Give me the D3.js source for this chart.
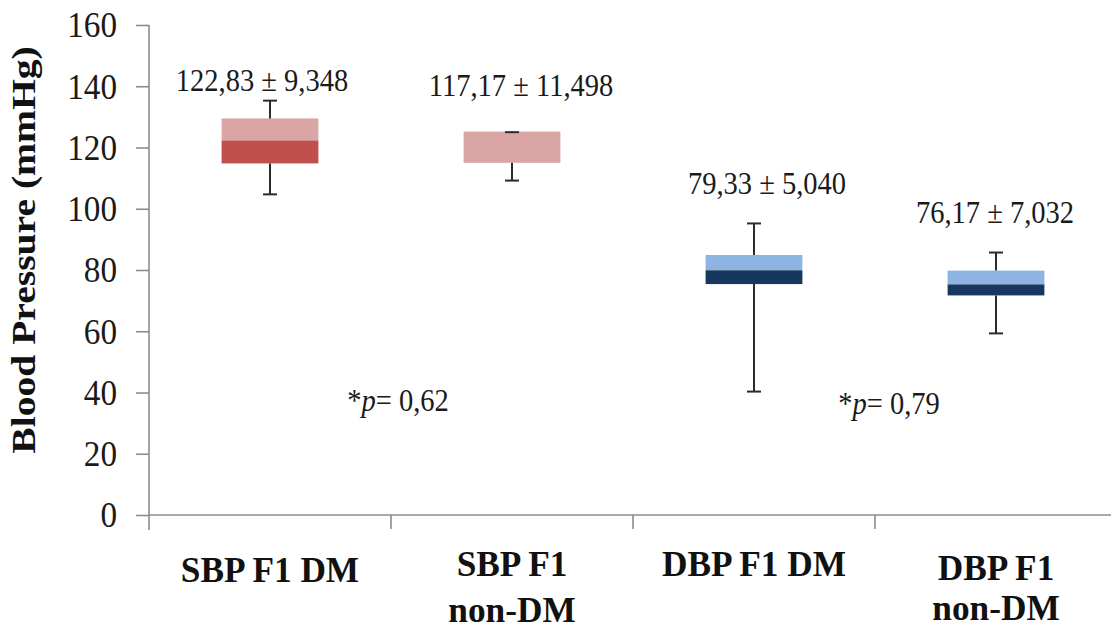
<!DOCTYPE html>
<html>
<head>
<meta charset="utf-8">
<script src="https://cdn.jsdelivr.net/npm/d3@7"></script>
<style>
  body { margin: 0; background: #fff; }
  svg { display: block; font-family: "Liberation Serif", "Times New Roman", serif; }
</style>
</head>
<body>
<svg id="chart" width="1111" height="630"></svg>
<script>
// data
var categories = ["SBP F1 DM", "SBP F1 non-DM", "DBP F1 DM", "DBP F1 non-DM"];
var labelLines = [["SBP F1 DM"], ["SBP F1", "non-DM"], ["DBP F1 DM"], ["DBP F1", "non-DM"]];
var minVals = [104.7, 109.2, 40.3, 59.3];
var q1Vals  = [114.8, 115.0, 75.4, 71.7];
var medVals = [122.3, 115.0, 79.9, 75.3];
var q3Vals  = [129.5, 125.2, 84.9, 79.8];
var maxVals = [135.3, 125.0, 95.2, 85.7];
var meanSd  = ["122,83 \u00b1 9,348", "117,17 \u00b1 11,498", "79,33 \u00b1 5,040", "76,17 \u00b1 7,032"];
var meanSdLevel = [138.4, 136.8, 104.8, 95.3];   // where each note sits (mmHg)
var pValues = ["0,62", "0,79"];
var pLevel  = [34, 33];
var yTicks  = [0, 20, 40, 60, 80, 100, 120, 140, 160];

// layout
var plotLeft = 149, plotRight = 1117, plotTop = 25, plotBottom = 515;
var sx = 0.92;   // the picture is a bit squeezed sideways
var darkCol  = ["#C0504D", "#C0504D", "#17375E", "#17375E"];
var lightCol = ["#D9A6A5", "#D9A6A5", "#8DB4E2", "#8DB4E2"];
var noteShift = [-8, 9, 13, -1];
var lineBase = [582, 576, 576, 580];
var lineGap = [46, 46, 46, 40];

var svg = d3.select("#chart");

var x = d3.scaleBand().domain(categories).range([plotLeft, plotRight]).paddingInner(0).paddingOuter(0);
var y = d3.scaleLinear().domain([0, 160]).range([plotBottom, plotTop]);
var boxW = x.bandwidth() * 0.4;

function squeezed(sel, px, py, k) {
  return sel.attr("transform", "translate(" + px + "," + py + ") scale(" + (k || sx) + ",1)");
}

// y axis
var yAxis = svg.append("g")
  .attr("transform", "translate(" + plotLeft + ",0)")
  .call(d3.axisLeft(y).tickValues(yTicks).tickSize(13).tickPadding(0).tickFormat(""));
yAxis.select(".domain").attr("d", "M0," + plotTop + "V" + (plotBottom + 15));
yAxis.selectAll("line, path").attr("stroke", "#8c8c8c").attr("stroke-width", 1.6);

yTicks.forEach(function(t) {
  squeezed(svg.append("text"), 117, y(t), 0.95)
    .attr("text-anchor", "end")
    .attr("dy", "0.35em")
    .attr("font-size", 35)
    .attr("fill", "#1a1a1a")
    .text(t);
});

// x axis line with ticks at category borders
svg.append("line")
  .attr("x1", plotLeft).attr("x2", 1111)
  .attr("y1", plotBottom).attr("y2", plotBottom)
  .attr("stroke", "#8c8c8c").attr("stroke-width", 1.6);
svg.selectAll(".xtick")
  .data(categories.slice(1))
  .enter().append("line")
  .attr("x1", function(d) { return x(d); })
  .attr("x2", function(d) { return x(d); })
  .attr("y1", plotBottom).attr("y2", plotBottom + 14)
  .attr("stroke", "#8c8c8c").attr("stroke-width", 1.6);

// category labels
categories.forEach(function(c, i) {
  labelLines[i].forEach(function(line, j) {
    squeezed(svg.append("text"), x(c) + x.bandwidth() / 2, lineBase[i] + j * lineGap[i], 0.98)
      .attr("text-anchor", "middle")
      .attr("font-weight", "bold")
      .attr("font-size", 36)
      .attr("fill", "#111")
      .text(line);
  });
});

// y title
svg.append("text")
  .attr("transform", "translate(35,250) rotate(-90) scale(1.2,1)")
  .attr("text-anchor", "middle")
  .attr("font-weight", "bold")
  .attr("font-size", 33)
  .attr("fill", "#111")
  .text("Blood Pressure (mmHg)");

// boxes
var boxes = svg.selectAll(".box")
  .data(categories)
  .enter().append("g")
  .attr("transform", function(d) { return "translate(" + (x(d) + x.bandwidth() / 2) + ",0)"; });

boxes.append("rect")
  .attr("x", -boxW / 2).attr("width", boxW)
  .attr("y", function(d, i) { return y(q3Vals[i]); })
  .attr("height", function(d, i) { return y(medVals[i]) - y(q3Vals[i]); })
  .attr("fill", function(d, i) { return lightCol[i]; });

boxes.append("rect")
  .attr("x", -boxW / 2).attr("width", boxW)
  .attr("y", function(d, i) { return y(medVals[i]); })
  .attr("height", function(d, i) { return y(q1Vals[i]) - y(medVals[i]); })
  .attr("fill", function(d, i) { return darkCol[i]; });

// whiskers
var wc = "#2b2b2b";
boxes.append("line")
  .attr("y1", function(d, i) { return y(maxVals[i]); })
  .attr("y2", function(d, i) { return y(q3Vals[i]); })
  .attr("stroke", wc).attr("stroke-width", 2);
boxes.append("line")
  .attr("y1", function(d, i) { return y(q1Vals[i]); })
  .attr("y2", function(d, i) { return y(minVals[i]); })
  .attr("stroke", wc).attr("stroke-width", 2);
boxes.append("line")
  .attr("x1", -7).attr("x2", 7)
  .attr("y1", function(d, i) { return y(maxVals[i]); })
  .attr("y2", function(d, i) { return y(maxVals[i]); })
  .attr("stroke", wc).attr("stroke-width", 2);
boxes.append("line")
  .attr("x1", -7).attr("x2", 7)
  .attr("y1", function(d, i) { return y(minVals[i]); })
  .attr("y2", function(d, i) { return y(minVals[i]); })
  .attr("stroke", wc).attr("stroke-width", 2);

// mean ± sd notes
categories.forEach(function(c, i) {
  squeezed(svg.append("text"), x(c) + x.bandwidth() / 2 + noteShift[i], y(meanSdLevel[i]))
    .attr("text-anchor", "middle")
    .attr("font-size", 31)
    .attr("fill", "#1a1a1a")
    .text(meanSd[i]);
});

// p values, sitting on the border between each pair
pValues.forEach(function(p, i) {
  var t = squeezed(svg.append("text"), x(categories[i * 2 + 1]) + 7 * (1 + i), y(pLevel[i]))
    .attr("text-anchor", "middle")
    .attr("font-size", 31)
    .attr("fill", "#1a1a1a");
  t.append("tspan").text("*");
  t.append("tspan").attr("font-style", "italic").text("p");
  t.append("tspan").text("= " + p);
});
</script>
</body>
</html>
